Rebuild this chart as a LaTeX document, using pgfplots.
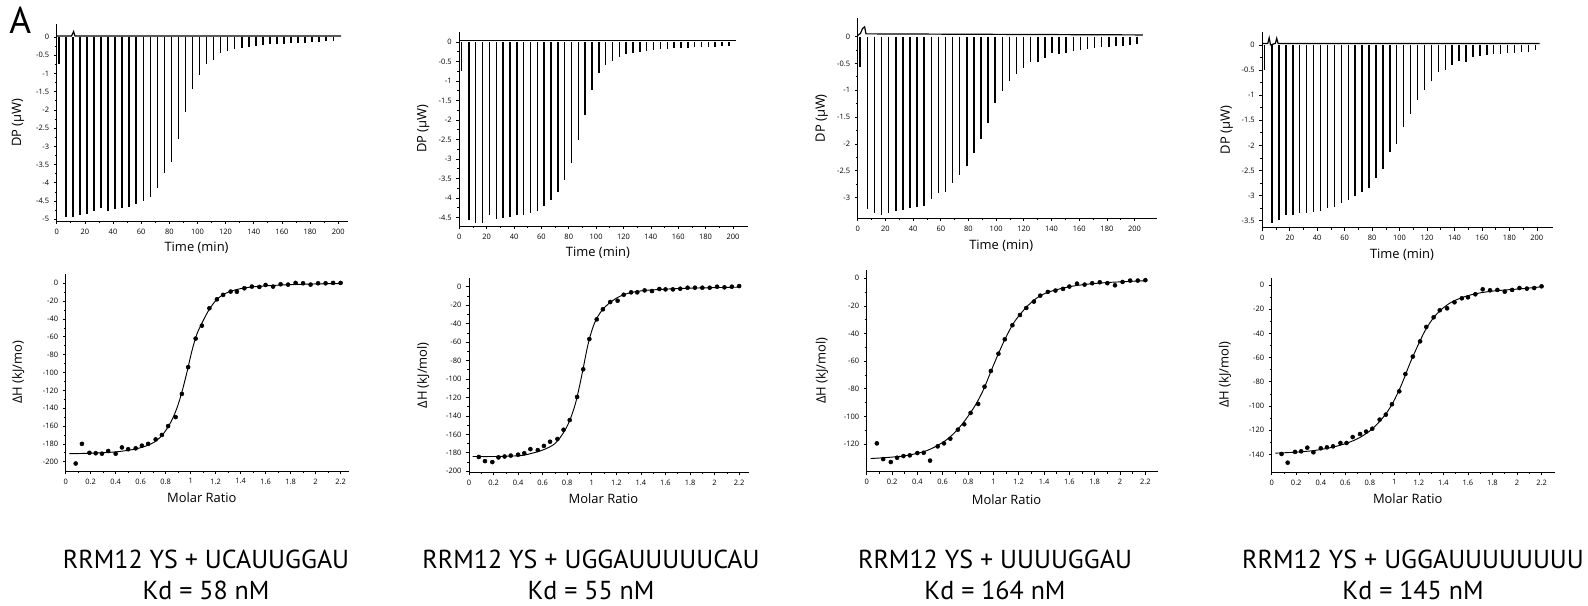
\documentclass[border=0pt]{standalone}
\usepackage{pgfplots}
\pgfplotsset{compat=1.18}
\usepackage{fontspec}
\setmainfont{Open Sans}
\newfontfamily\labfont{PT Sans}
\pgfplotsset{
  itc/.style={
    scale only axis, anchor=south west,
    axis lines=left, axis line style={-, line width=0.6pt},
    tick align=outside, major tick length=2.2pt, minor tick length=1.5pt,
    tick style={line width=0.5pt, black},
    minor x tick num=1, minor y tick num=1,
    tick label style={font=\fontsize{5.6}{6}\selectfont},
    label style={font=\fontsize{9.7}{11}\selectfont},
    /pgf/number format/assume math mode=true,
    xlabel style={at={(axis description cs:0.48,-0.137)},anchor=center},
  },
  thermo/.style={itc, xmin=0, xtick={0,20,40,60,80,100,120,140,160,180,200},
    xlabel={Time (min)}, ylabel={DP (µW)}},
  iso/.style={itc, xmin=0, xtick={0,0.2,0.4,0.6,0.8,1,1.2,1.4,1.6,1.8,2,2.2},
    xticklabels={0,0.2,0.4,0.6,0.8,1,1.2,1.4,1.6,1.8,2,2.2},
    xlabel={Molar Ratio}},
  spk/.style={ycomb, line width=1.1pt, black, no marks},
  base/.style={line width=0.9pt, black, no marks},
  pts/.style={only marks, mark=*, mark size=1.5pt, black},
  fit/.style={smooth, line width=0.7pt, black, no marks},
}
\begin{document}
\begin{tikzpicture}[x=0.75pt,y=0.75pt]
\path (0,0) rectangle (1588,606);
\node[anchor=base west, inner sep=0pt, font=\labfont\fontsize{28}{30}\selectfont] at (9,572) {A};

% ---------- Panel 1 top ----------
\begin{axis}[thermo, at={(42.53pt,288.75pt)}, width=218.5pt, height=147.75pt,
  xmax=207, ymin=-5.05, ymax=0.36,
  ytick={-5,-4.5,-4,-3.5,-3,-2.5,-2,-1.5,-1,-0.5,0},
  yticklabels={-5,-4.5,-4,-3.5,-3,-2.5,-2,-1.5,-1,-0.5,0},
  ylabel style={at={(axis description cs:-0.133,0.5)},anchor=center}]
\addplot[base] coordinates {(0,0.03) (10.5,0.03) (12,0.15) (13,0.03) (202,0.03)};
\addplot[spk] coordinates {
(1.5,-0.75) (6.5,-4.95) (11.5,-4.93) (16.5,-4.88) (21.5,-4.86) (26.5,-4.77)
(31.5,-4.68) (36.5,-4.77) (41.5,-4.73) (46.5,-4.70) (51.5,-4.66) (56.5,-4.59)
(61.5,-4.50) (66.5,-4.38) (71.5,-4.14) (76.5,-3.72) (81.5,-3.43) (86.5,-2.80)
(91.5,-2.07) (96.5,-1.43) (101.5,-1.03) (106.5,-0.75) (111.5,-0.62) (116.5,-0.44)
(121.5,-0.39) (126.5,-0.34) (131.5,-0.30) (136.5,-0.27) (141.5,-0.25) (146.5,-0.22)
(151.5,-0.20) (156.5,-0.19) (161.5,-0.18) (166.5,-0.17) (171.5,-0.16) (176.5,-0.15)
(181.5,-0.14) (186.5,-0.13) (191.5,-0.12) (196.5,-0.12)};
\end{axis}

% ---------- Panel 2 top ----------
\begin{axis}[thermo, at={(344.48pt,285pt)}, width=216.5pt, height=145.7pt,
  xmax=211, ymin=-4.72, ymax=0.265,
  ytick={-4.5,-4,-3.5,-3,-2.5,-2,-1.5,-1,-0.5,0},
  yticklabels={-4.5,-4,-3.5,-3,-2.5,-2,-1.5,-1,-0.5,0},
  ylabel style={at={(axis description cs:-0.125,0.5)},anchor=center}]
\addplot[base] coordinates {(0,0.03) (202,0.03)};
\addplot[spk] coordinates {
(1.5,-0.74) (7.0,-4.57) (12.0,-4.64) (17.0,-4.64) (22.0,-4.44) (27.0,-4.53)
(32.0,-4.52) (37.0,-4.48) (42.0,-4.44) (47.0,-4.43) (52.0,-4.38) (57.0,-4.33)
(62.0,-4.21) (67.0,-4.06) (72.0,-3.86) (77.0,-3.55) (82.0,-3.11) (87.0,-2.51)
(92.0,-1.86) (97.0,-1.23) (102.0,-0.80) (107.0,-0.60) (112.0,-0.49) (117.0,-0.38)
(122.0,-0.31) (127.0,-0.27) (132.0,-0.25) (137.0,-0.22) (142.0,-0.21) (147.0,-0.18)
(152.0,-0.17) (157.0,-0.16) (162.0,-0.15) (167.0,-0.14) (172.0,-0.13) (177.0,-0.13)
(182.0,-0.12) (187.0,-0.12) (192.0,-0.11) (197.0,-0.11)};
\end{axis}

% ---------- Panel 3 top ----------
\begin{axis}[thermo, at={(643.28pt,290.78pt)}, width=224.25pt, height=150pt,
  xmax=216, ymin=-3.385, ymax=0.34,
  ytick={-3,-2.5,-2,-1.5,-1,-0.5,0},
  yticklabels={-3,-2.5,-2,-1.5,-1,-0.5,0},
  ylabel style={at={(axis description cs:-0.120,0.5)},anchor=center}]
\addplot[base] coordinates {(0,0.02) (2,0.06) (3.5,0.15) (5,0.18) (6,0.05) (206,0.03)};
\addplot[spk] coordinates {
(1.5,-0.56) (7.0,-3.22) (12.1,-3.29) (17.3,-3.32) (22.4,-3.28) (27.5,-3.24)
(32.7,-3.23) (37.8,-3.20) (42.9,-3.17) (48.0,-3.16) (53.2,-3.03) (58.3,-2.92)
(63.4,-2.89) (68.6,-2.72) (73.7,-2.58) (78.8,-2.42) (84.0,-2.17) (89.1,-1.91)
(94.2,-1.61) (99.3,-1.24) (104.5,-1.02) (109.6,-0.83) (114.7,-0.70) (119.9,-0.59)
(125.0,-0.48) (130.1,-0.47) (135.3,-0.40) (140.4,-0.31) (145.5,-0.33) (150.6,-0.30)
(155.8,-0.26) (160.9,-0.25) (166.0,-0.24) (171.2,-0.22) (176.3,-0.20) (181.4,-0.19)
(186.6,-0.17) (191.7,-0.17) (196.8,-0.16) (201.9,-0.14)};
\end{axis}

% ---------- Panel 4 top ----------
\begin{axis}[thermo, at={(946.73pt,283.73pt)}, width=218.25pt, height=146.5pt,
  xmax=212, ymin=-3.64, ymax=0.25,
  ytick={-3.5,-3,-2.5,-2,-1.5,-1,-0.5,0},
  yticklabels={-3.5,-3,-2.5,-2,-1.5,-1,-0.5,0},
  ylabel style={at={(axis description cs:-0.122,0.5)},anchor=center}]
\addplot[base] coordinates {(0,0.03) (4,0.03) (5,0.14) (6,0.0) (9.5,0.03) (10.5,0.13) (11.5,0.03) (202,0.03)};
\addplot[spk] coordinates {
(1.5,-0.50) (7.0,-3.54) (12.1,-3.49) (17.1,-3.39) (22.2,-3.39) (27.2,-3.35)
(32.3,-3.35) (37.3,-3.33) (42.4,-3.30) (47.4,-3.25) (52.5,-3.22) (57.5,-3.15)
(62.6,-3.09) (67.6,-3.01) (72.7,-2.92) (77.7,-2.84) (82.8,-2.66) (87.8,-2.48)
(92.9,-2.13) (97.9,-1.97) (103.0,-1.64) (108.0,-1.37) (113.1,-1.10) (118.1,-0.90)
(123.2,-0.71) (128.2,-0.53) (133.3,-0.50) (138.3,-0.41) (143.4,-0.33) (148.4,-0.35)
(153.5,-0.25) (158.5,-0.23) (163.6,-0.21) (168.6,-0.19) (173.7,-0.18) (178.7,-0.17)
(183.8,-0.16) (188.8,-0.15) (193.9,-0.15) (198.9,-0.10)};
\end{axis}

% ---------- Panel 1 bottom ----------
\begin{axis}[iso, at={(49.28pt,101.25pt)}, width=212.7pt, height=147.75pt,
  xmax=2.27, ymin=-210.4, ymax=10.4,
  ytick={-200,-180,-160,-140,-120,-100,-80,-60,-40,-20,0},
  ylabel={ΔH (kJ/mo)},
  ylabel style={at={(axis description cs:-0.168,0.5)},anchor=center}]
\addplot[fit] coordinates {(0.03,-191) (0.2,-190.5) (0.4,-189) (0.55,-186) (0.65,-182)
 (0.72,-177) (0.78,-169) (0.84,-156) (0.89,-140) (0.93,-122) (0.97,-100) (1.01,-76)
 (1.05,-57) (1.10,-42) (1.15,-29) (1.21,-18) (1.27,-12) (1.33,-8.5) (1.4,-6)
 (1.5,-4) (1.65,-2.5) (1.85,-1.3) (2.05,-0.6) (2.2,-0.3)};
\addplot[pts] coordinates {
(0.08,-202) (0.13,-180) (0.19,-190) (0.24,-190.5) (0.29,-191) (0.34,-188) (0.40,-191)
(0.45,-184) (0.50,-186) (0.56,-185) (0.61,-182) (0.66,-180) (0.72,-175) (0.77,-170)
(0.82,-160) (0.88,-150) (0.93,-124) (0.98,-94) (1.04,-62) (1.09,-47.5) (1.15,-28)
(1.21,-18) (1.26,-13) (1.32,-9.3) (1.37,-9.5) (1.43,-5.6) (1.49,-3.7) (1.55,-4.1)
(1.60,-1.9) (1.66,-3.7) (1.72,-1.1) (1.78,-1.5) (1.84,0.4) (1.90,0) (1.96,-1.5)
(2.02,0) (2.08,0) (2.14,0.4) (2.20,0.4)};
\end{axis}

% ---------- Panel 2 bottom ----------
\begin{axis}[iso, at={(351.75pt,100.35pt)}, width=210pt, height=145.35pt,
  xmax=2.28, ymin=-201, ymax=9,
  ytick={-200,-180,-160,-140,-120,-100,-80,-60,-40,-20,0},
  ylabel={ΔH (kJ/mol)},
  ylabel style={at={(axis description cs:-0.164,0.5)},anchor=center}]
\addplot[fit] coordinates {(0.03,-184) (0.2,-184) (0.35,-183.5) (0.45,-182.5) (0.6,-177)
 (0.7,-170) (0.77,-158) (0.82,-145) (0.87,-125) (0.92,-95) (0.97,-62) (1.02,-40)
 (1.08,-26) (1.15,-17) (1.22,-11) (1.3,-7) (1.4,-4.5) (1.55,-3) (1.75,-1.8)
 (2.0,-1) (2.2,-0.5)};
\addplot[pts] coordinates {
(0.08,-184.5) (0.13,-189) (0.19,-190) (0.24,-185) (0.29,-184) (0.34,-183) (0.40,-182)
(0.45,-180.5) (0.50,-176) (0.56,-177) (0.61,-172.5) (0.66,-168) (0.72,-165) (0.77,-155)
(0.82,-144.5) (0.88,-119.5) (0.93,-89.5) (0.98,-56.7) (1.04,-35.4) (1.09,-24.5)
(1.15,-16.6) (1.21,-15.2) (1.26,-8.7) (1.32,-6.1) (1.37,-6.1) (1.43,-4) (1.49,-4.7)
(1.55,-2.5) (1.60,-2.9) (1.66,-2.9) (1.72,-2.2) (1.78,-1.1) (1.84,-1.1) (1.90,-1.1)
(1.96,-1.1) (2.02,0) (2.08,-0.7) (2.14,0) (2.20,0.7)};
\end{axis}

% ---------- Panel 3 bottom ----------
\begin{axis}[iso, at={(650.03pt,100.73pt)}, width=218.5pt, height=151.3pt,
  xmax=2.3, ymin=-140, ymax=6,
  ytick={-120,-100,-80,-60,-40,-20,0},
  ylabel={ΔH (kJ/mol)},
  ylabel style={at={(axis description cs:-0.154,0.5)},anchor=center}]
\addplot[fit] coordinates {(0.03,-130.5) (0.15,-129.8) (0.3,-128.5) (0.45,-125.5)
 (0.55,-121.5) (0.65,-115.5) (0.75,-106) (0.85,-93) (0.92,-81) (0.98,-67.5)
 (1.04,-54.5) (1.10,-42.5) (1.17,-31) (1.26,-21) (1.34,-14.5) (1.42,-10.5)
 (1.52,-7.8) (1.62,-5.8) (1.75,-4.2) (1.9,-3.1) (2.05,-2.4) (2.2,-1.8)};
\addplot[pts] coordinates {
(0.08,-119.5) (0.13,-130.9) (0.19,-133) (0.24,-129.9) (0.29,-128.7) (0.34,-128.2)
(0.40,-126.5) (0.45,-126.3) (0.50,-132) (0.56,-121.7) (0.61,-119.5) (0.66,-116.1)
(0.72,-109.6) (0.77,-105.7) (0.82,-97.5) (0.88,-91) (0.93,-78.5) (0.98,-67.1)
(1.04,-54.6) (1.09,-44.2) (1.15,-34) (1.21,-26.6) (1.26,-21.5) (1.32,-16.9)
(1.37,-12.6) (1.43,-9.9) (1.49,-8.9) (1.55,-7.7) (1.60,-6) (1.66,-3.9) (1.72,-4.6)
(1.78,-3.6) (1.84,-2.9) (1.90,-3.6) (1.96,-5.1) (2.02,-2.7) (2.08,-1.7) (2.14,-1.7)
(2.20,-1.4)};
\end{axis}

% ---------- Panel 4 bottom ----------
\begin{axis}[iso, at={(953.78pt,100.5pt)}, width=212.5pt, height=145.7pt,
  xmax=2.31, ymin=-154.6, ymax=6,
  ytick={-140,-120,-100,-80,-60,-40,-20,0},
  ylabel={ΔH (kJ/mol)},
  ylabel style={at={(axis description cs:-0.165,0.5)},anchor=center}]
\addplot[fit] coordinates {(0.03,-139) (0.2,-138.2) (0.35,-136.8) (0.5,-134) (0.62,-130.5)
 (0.72,-126) (0.82,-119) (0.92,-108) (0.99,-97) (1.06,-82) (1.13,-64) (1.21,-46)
 (1.26,-36) (1.32,-27) (1.38,-20.5) (1.46,-14.5) (1.55,-10.5) (1.65,-7.5)
 (1.78,-5.3) (1.92,-4) (2.05,-3) (2.2,-1.5)};
\addplot[pts] coordinates {
(0.08,-139.7) (0.13,-146.9) (0.19,-138) (0.24,-137.5) (0.29,-134.5) (0.34,-138.3)
(0.40,-135) (0.45,-134.2) (0.50,-133.4) (0.56,-130.6) (0.61,-130.6) (0.66,-125.7)
(0.72,-123.2) (0.77,-121.2) (0.82,-118.8) (0.88,-111.3) (0.93,-107.2) (0.98,-98.6)
(1.04,-87.9) (1.09,-73.6) (1.15,-59.2) (1.21,-46.6) (1.26,-34.7) (1.32,-26.7)
(1.37,-20.9) (1.43,-19.3) (1.49,-14.3) (1.55,-11) (1.60,-10.2) (1.66,-7.7)
(1.72,-3.6) (1.78,-4.4) (1.84,-4.1) (1.90,-5.5) (1.96,-4.1) (2.02,-2.5) (2.08,-3)
(2.14,-2.5) (2.20,-1.1)};
\end{axis}

% ---------- Captions ----------
\begin{scope}[every node/.style={anchor=base, inner sep=0pt, font=\labfont\fontsize{19.5}{22}\selectfont}]
\node at (206,37) {RRM12 YS + UCAUUGGAU};
\node at (206,6.4) {Kd = 58 nM};
\node at (591,37) {RRM12 YS + UGGAUUUUUCAU};
\node at (591,6.4) {Kd = 55 nM};
\node at (995,37) {RRM12 YS + UUUUGGAU};
\node at (995,6.4) {Kd = 164 nM};
\node at (1413,37) {RRM12 YS + UGGAUUUUUUUU};
\node at (1413,6.4) {Kd = 145 nM};
\end{scope}
\end{tikzpicture}
\end{document}
